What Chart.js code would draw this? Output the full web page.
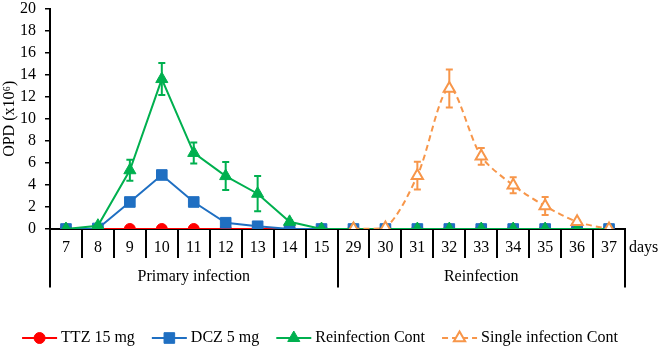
<!DOCTYPE html>
<html>
<head>
<meta charset="utf-8">
<script src="https://cdn.jsdelivr.net/npm/chart.js@4"></script>
<style>
  html, body { margin: 0; padding: 0; background: #fff; }
  #cont { width: 661px; height: 347px; }
</style>
</head>
<body>
<div id="cont"><canvas id="graficoOPD"></canvas></div>
<script>
// dati
const giorni = ['7', '8', '9', '10', '11', '12', '13', '14', '15', '29', '30', '31', '32', '33', '34', '35', '36', '37'];
const gruppi = ['Primary infection', 'Reinfection'];
const ttz = [0, 0, 0, 0, 0, 0, 0, 0, 0, 0, 0, 0, 0, 0, 0, 0, 0, 0];
const dcz = [0, 0.05, 2.45, 4.9, 2.45, 0.57, 0.25, 0, 0, 0, 0, 0, 0, 0, 0, 0, 0, 0];
const reinfCont = [0, 0.3, 5.33, 13.6, 6.9, 4.8, 3.2, 0.65, 0, 0, 0, 0, 0, 0, 0, 0, 0, 0];
const reinfErr = [0, 0, 0.95, 1.45, 0.95, 1.27, 1.6, 0.15, 0, 0, 0, 0, 0, 0, 0, 0, 0, 0];
const singleCont = [null, null, null, null, null, null, null, null, null, 0, 0.1, 4.84, 12.75, 6.59, 3.97, 2.08, 0.65, 0];
const singleErr = [null, null, null, null, null, null, null, null, null, 0, 0, 1.25, 1.72, 0.76, 0.72, 0.82, 0.12, 0];
const yTicks = [0, 2, 4, 6, 8, 10, 12, 14, 16, 18, 20];

const rosso = '#FF0000';
const blu = '#1F6FC2';
const verde = '#00B04F';
const arancio = '#F7964A';
const font = 'Liberation Serif, Times New Roman, serif';

// barre di errore
const erroriPlugin = {
    id: 'errori',
    beforeDatasetsDraw(chart) {
        const ctx = chart.ctx;
        const y = chart.scales.y;
        chart.data.datasets.forEach((ds, i) => {
            if (!ds.errori) return;
            const meta = chart.getDatasetMeta(i);
            ctx.save();
            ctx.strokeStyle = ds.borderColor;
            ctx.lineWidth = 2;
            ds.errori.forEach((e, j) => {
                if (!e || ds.data[j] == null) return;
                const px = meta.data[j].x;
                const top = y.getPixelForValue(ds.data[j] + e);
                const bot = y.getPixelForValue(ds.data[j] - e);
                ctx.beginPath();
                ctx.moveTo(px, top); ctx.lineTo(px, bot);
                ctx.moveTo(px - 3.5, top); ctx.lineTo(px + 3.5, top);
                ctx.moveTo(px - 3.5, bot); ctx.lineTo(px + 3.5, bot);
                ctx.stroke();
            });
            ctx.restore();
        });
    }
};

// legenda con linea + marcatore, e la scritta "days"
const legendaPlugin = {
    id: 'legenda',
    afterDraw(chart) {
        const ctx = chart.ctx;
        const x = chart.scales.x;
        ctx.save();
        ctx.font = '16px ' + font;
        ctx.fillStyle = '#000';
        ctx.textBaseline = 'middle';
        ctx.textAlign = 'left';
        ctx.fillText('days', x.right + 4, 248);

        const voci = chart.data.datasets;
        const lungh = 35, gap1 = 4, gap2 = 17;
        let tot = 0;
        voci.forEach(d => { tot += lungh + gap1 + ctx.measureText(d.label).width; });
        tot += gap2 * (voci.length - 1);
        let cx = 320 - tot / 2;
        const ly = 338;
        voci.forEach(d => {
            ctx.save();
            ctx.strokeStyle = d.borderColor;
            ctx.lineWidth = 2;
            ctx.setLineDash(d.borderDash || []);
            ctx.beginPath();
            ctx.moveTo(cx, ly); ctx.lineTo(cx + lungh, ly);
            ctx.stroke();
            ctx.setLineDash([]);
            ctx.fillStyle = d.pointBackgroundColor;
            ctx.strokeStyle = d.borderColor;
            ctx.lineWidth = d.pointBorderWidth;
            Chart.helpers.drawPoint(ctx, {
                pointStyle: d.pointStyle,
                radius: d.pointRadius,
                borderWidth: d.pointBorderWidth
            }, cx + lungh / 2, ly);
            ctx.restore();
            cx += lungh + gap1;
            ctx.fillStyle = '#000';
            ctx.fillText(d.label, cx, ly);
            cx += ctx.measureText(d.label).width + gap2;
        });
        ctx.restore();
    }
};

const ctxOPD = document.getElementById('graficoOPD').getContext('2d');
const graficoOPD = new Chart(ctxOPD, {
    type: 'line',
    data: {
        labels: giorni,
        datasets: [
            {
                label: 'TTZ 15 mg',
                data: ttz,
                borderColor: rosso,
                backgroundColor: rosso,
                pointBackgroundColor: rosso,
                pointBorderColor: rosso,
                pointBorderWidth: 1,
                pointStyle: 'circle',
                pointRadius: 5.5,
                borderWidth: 2,
                tension: 0,
                order: 4
            },
            {
                label: 'DCZ 5 mg',
                data: dcz,
                borderColor: blu,
                backgroundColor: blu,
                pointBackgroundColor: blu,
                pointBorderColor: blu,
                pointBorderWidth: 1,
                pointStyle: 'rect',
                pointRadius: 7.5,
                borderWidth: 2,
                tension: 0,
                order: 3
            },
            {
                label: 'Reinfection Cont',
                data: reinfCont,
                errori: reinfErr,
                borderColor: verde,
                backgroundColor: verde,
                pointBackgroundColor: verde,
                pointBorderColor: verde,
                pointBorderWidth: 1,
                pointStyle: 'triangle',
                pointRadius: 7,
                borderWidth: 2,
                tension: 0,
                order: 2
            },
            {
                label: 'Single infection Cont',
                data: singleCont,
                errori: singleErr,
                borderColor: arancio,
                backgroundColor: '#ffffff',
                pointBackgroundColor: '#ffffff',
                pointBorderColor: arancio,
                pointBorderWidth: 2,
                pointStyle: 'triangle',
                pointRadius: 6.5,
                borderWidth: 2,
                borderDash: [6, 4],
                tension: 0.3,
                order: 1
            }
        ]
    },
    options: {
        responsive: true,
        maintainAspectRatio: false,
        animation: false,
        layout: { padding: { top: 0, right: 36, bottom: 60, left: 0 } },
        plugins: {
            legend: { display: false },
            tooltip: { enabled: false }
        },
        scales: {
            x: {
                type: 'category',
                offset: true,
                weight: 0,
                afterFit: (s) => { s.height = 28.5; },
                border: { display: true, color: '#000', width: 2 },
                grid: { offset: true, drawOnChartArea: false, color: '#000', lineWidth: 2, tickLength: 29 },
                ticks: { color: '#000', font: { family: font, size: 16 }, padding: -20, maxRotation: 0, autoSkip: false }
            },
            x2: {
                type: 'category',
                labels: gruppi,
                position: 'bottom',
                offset: true,
                weight: 1,
                afterFit: (s) => { s.height = 29.5; },
                border: { display: false },
                grid: { offset: true, drawOnChartArea: false, color: '#000', lineWidth: 2, tickLength: 30 },
                ticks: { color: '#000', font: { family: font, size: 16 }, padding: -20, maxRotation: 0, autoSkip: false }
            },
            y: {
                min: 0,
                max: 20,
                afterBuildTicks: (s) => { s.ticks = yTicks.map(v => ({ value: v })); },
                afterFit: (s) => { s.width = 50; s.paddingTop = 6; s.paddingBottom = 0; },
                border: { display: true, color: '#000', width: 2 },
                grid: { drawOnChartArea: false, color: '#000', lineWidth: 1.5, tickLength: 5 },
                ticks: { color: '#000', font: { family: font, size: 16 }, padding: 9, autoSkip: false },
                title: {
                    display: true,
                    text: 'OPD (x10⁶)',
                    color: '#000',
                    font: { family: font, size: 16 },
                    padding: { top: 0, bottom: 0 }
                }
            }
        }
    },
    plugins: [erroriPlugin, legendaPlugin]
});
</script>
</body>
</html>
